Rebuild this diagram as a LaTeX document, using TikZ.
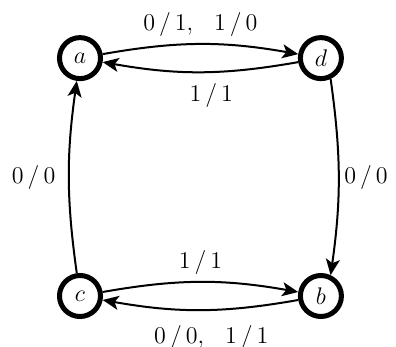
\documentclass[tikz,border=0pt]{standalone}
\usetikzlibrary{arrows.meta}

\tikzset{
	state/.style={circle, draw, line width=2.5pt, minimum size=0.72cm, inner sep=0pt, font=\fontsize{13}{15}\selectfont},
	trans/.style={line width=1pt, -{Stealth[length=8pt, width=7pt, inset=2pt]}},
	lab/.style={font=\fontsize{13}{15}\selectfont}
}

\begin{document}
\begin{tikzpicture}

	\useasboundingbox (0,0) rectangle (6.95,6.09);

% Define states.

	\node[state] (a) at (1.404, 5.07) {$a$};
	\node[state] (d) at (5.632, 5.07) {$d$};
	\node[state] (c) at (1.404, 0.895) {$c$};
	\node[state] (b) at (5.632, 0.895) {$b$};

% Draw transitions.

	\draw[trans] (a) to[bend left=10] node[lab, above] {$0\,/\,1,\ \ 1\,/\,0$} (d);
	\draw[trans] (d) to[bend left=10] node[lab, below, pos=0.44, yshift=-2pt] {$1\,/\,1$} (a);

	\draw[trans] (c) to[bend left=10] node[lab, above] {$1\,/\,1$} (b);
	\draw[trans] (b) to[bend left=10] node[lab, below, pos=0.44, yshift=-4pt] {$0\,/\,0,\ \ 1\,/\,1$} (c);

	\draw[trans] (c) to[bend left=8] node[lab, left, xshift=-3pt] {$0\,/\,0$} (a);
	\draw[trans] (d.-65) to[bend left=8] node[lab, right, xshift=-1pt] {$0\,/\,0$} (b.65);

\end{tikzpicture}
\end{document}
